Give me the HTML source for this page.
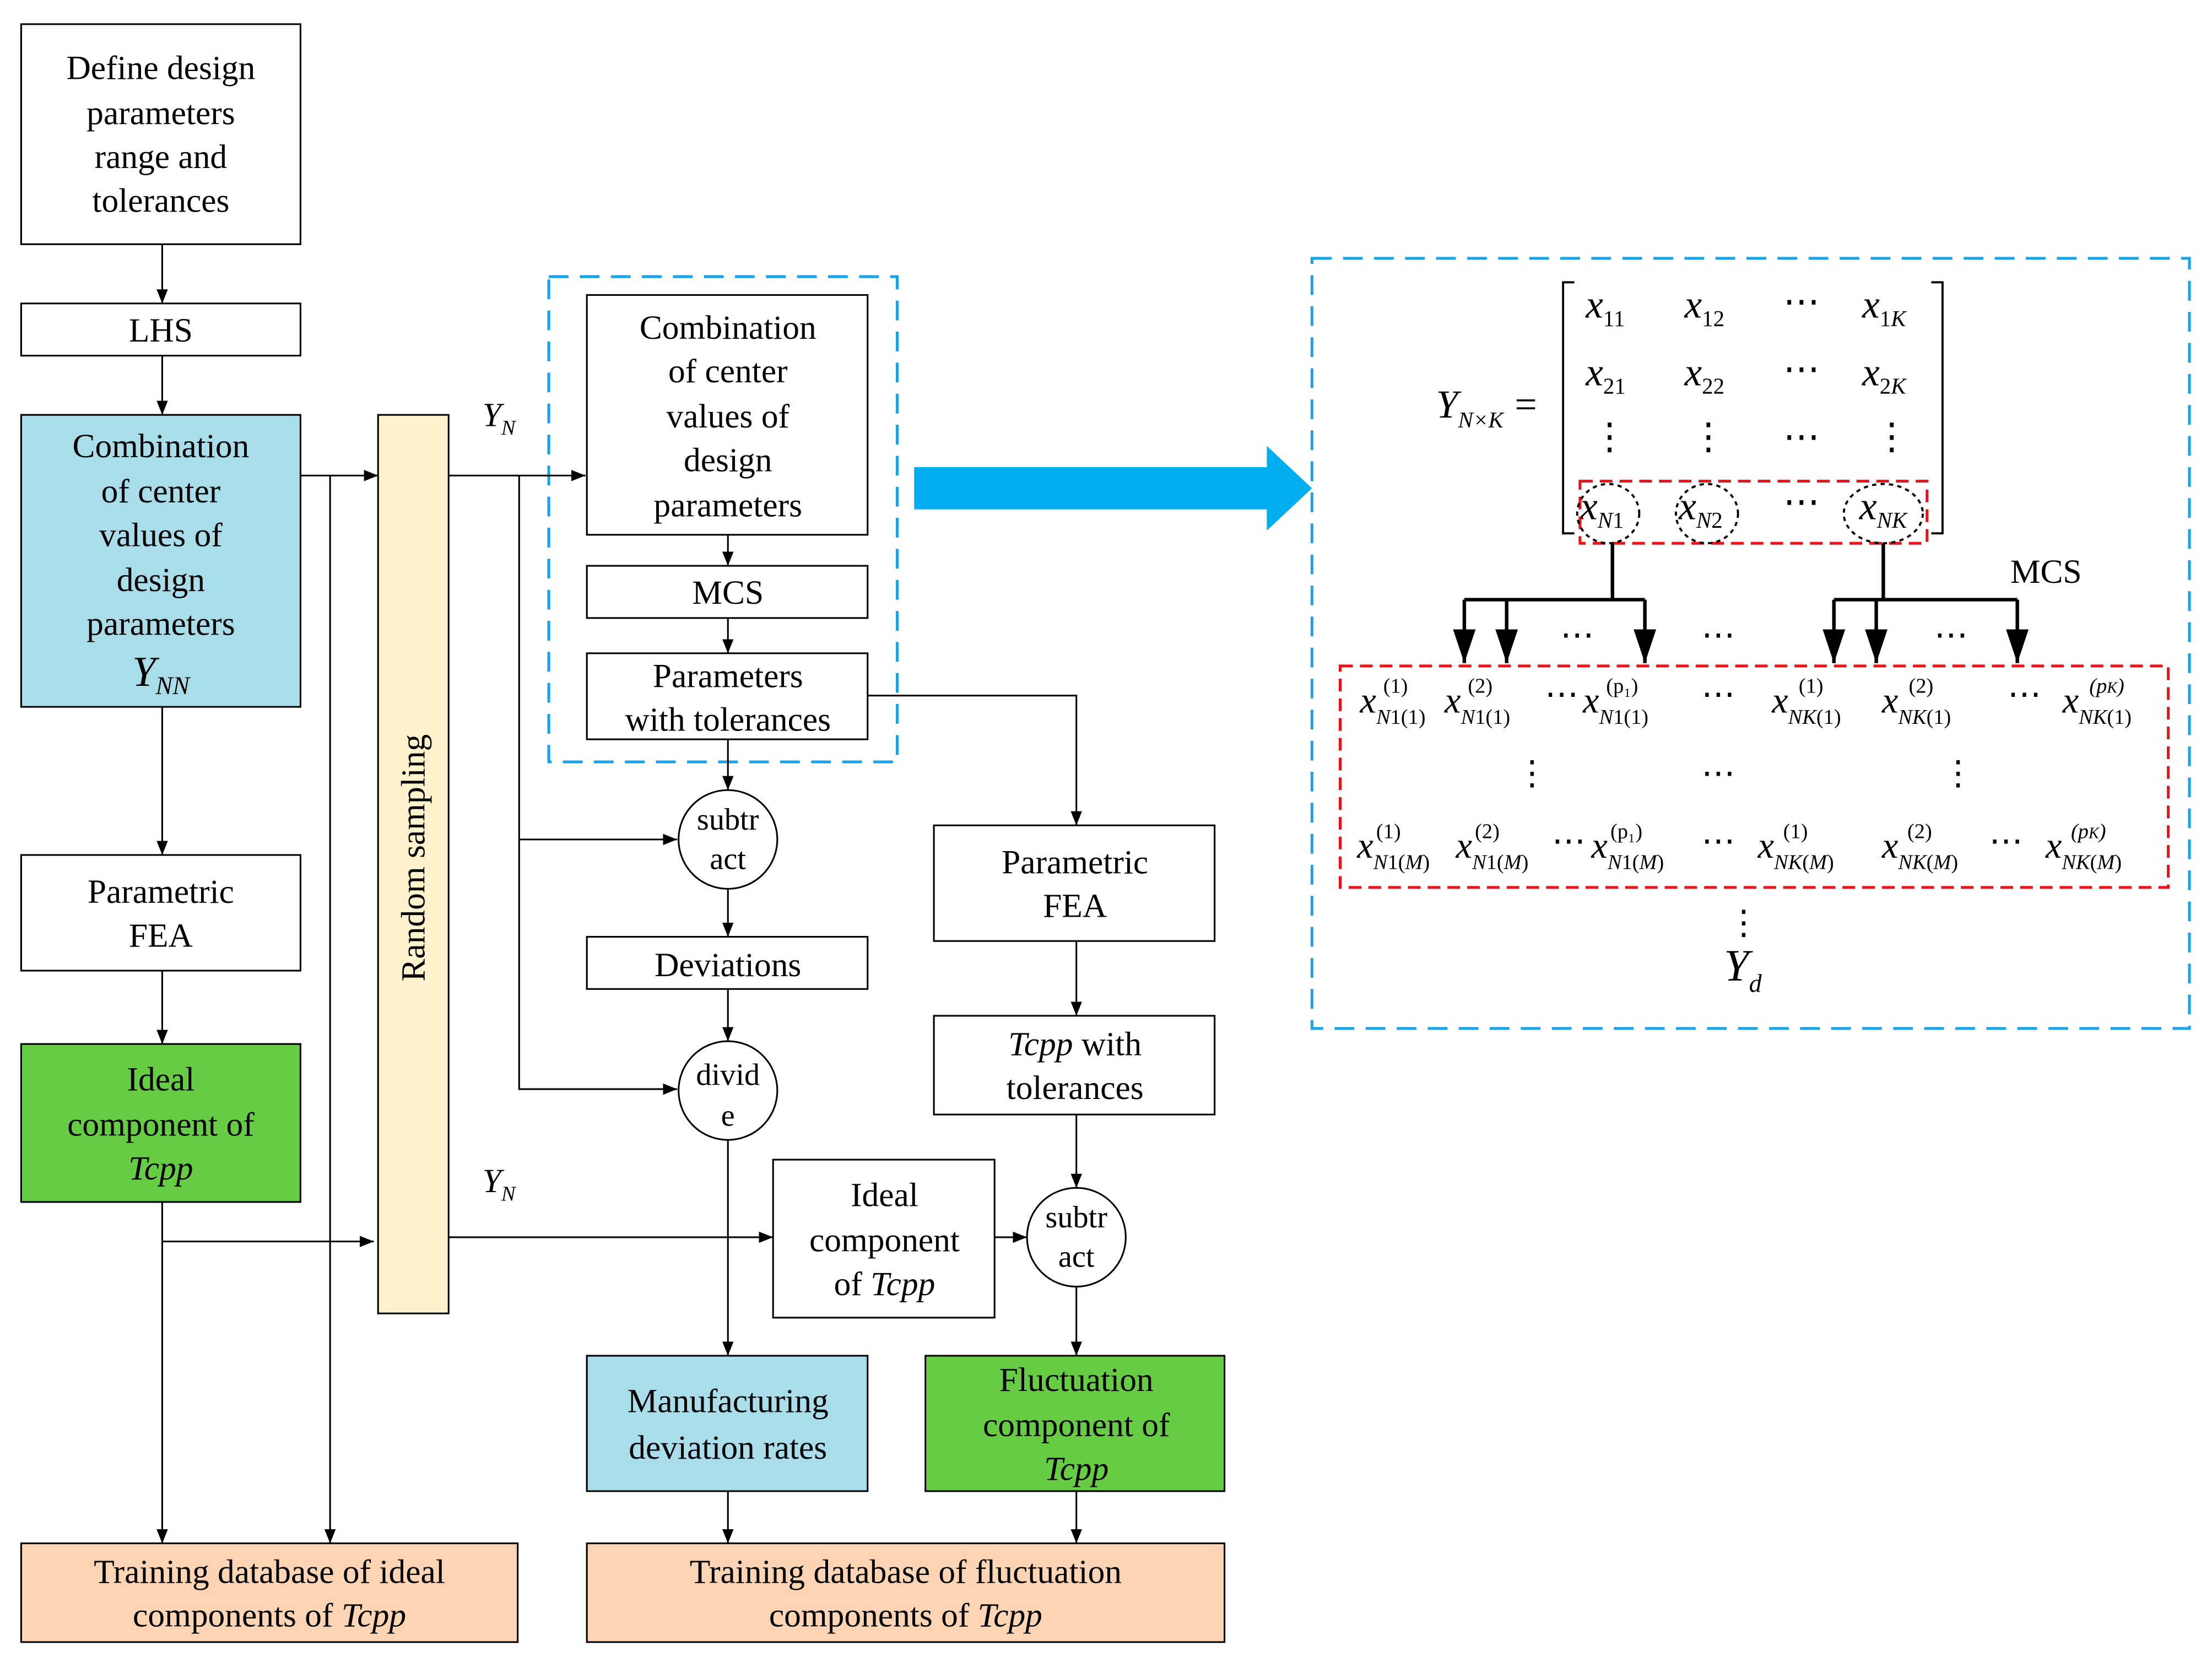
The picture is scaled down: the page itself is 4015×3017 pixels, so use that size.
<!DOCTYPE html>
<html><head><meta charset="utf-8"><style>html,body{margin:0;padding:0;background:#fff}svg{display:block}svg text{font-family:"Liberation Serif",serif}</style></head><body>
<svg width="4015" height="3017" viewBox="0 0 1568 1178" xmlns="http://www.w3.org/2000/svg" font-family="'Liberation Serif', serif" font-size="24">
<defs><marker id="a" markerWidth="10" markerHeight="8" refX="10" refY="4" orient="auto" markerUnits="userSpaceOnUse"><path d="M0,0L10,4L0,8z" fill="#000"/></marker>
<marker id="b" markerWidth="16" markerHeight="24" refX="8" refY="24" orient="0" markerUnits="userSpaceOnUse"><path d="M0,0L16,0L8,24z" fill="#000"/></marker></defs>
<rect width="1568" height="1178" fill="#fff"/>
<g stroke="#000" stroke-width="1.2" fill="none">
<rect x="15" y="17" width="198" height="156"/>
<rect x="15" y="215" width="198" height="37"/>
<rect x="15" y="294" width="198" height="207" fill="#a8dde9"/>
<rect x="15" y="606" width="198" height="82"/>
<rect x="15" y="740" width="198" height="112" fill="#66cc44"/>
<rect x="15" y="1094" width="352" height="70" fill="#fdd5b4"/>
<rect x="268" y="294" width="50" height="637" fill="#fff2cc"/>
<rect x="416" y="209" width="199" height="170"/>
<rect x="416" y="401" width="199" height="37"/>
<rect x="416" y="463" width="199" height="61"/>
<circle cx="516" cy="595" r="35"/>
<rect x="416" y="664" width="199" height="37"/>
<circle cx="516" cy="773" r="35"/>
<rect x="416" y="961" width="199" height="96" fill="#a8dde9"/>
<rect x="416" y="1094" width="452" height="70" fill="#fdd5b4"/>
<rect x="662" y="585" width="199" height="82"/>
<rect x="662" y="720" width="199" height="70"/>
<rect x="548" y="822" width="157" height="112"/>
<circle cx="763" cy="877" r="35"/>
<rect x="656" y="961" width="212" height="96" fill="#66cc44"/>
</g>
<g stroke="#1aa3e8" stroke-width="2" fill="none" stroke-dasharray="14,8">
<rect x="389" y="196" width="247" height="344"/>
<rect x="930" y="183" width="622" height="546"/>
</g>
<path d="M648,331H898V316L930,346L898,376V361H648Z" fill="#00aeef"/>
<g stroke="#000" stroke-width="1.2" fill="none" marker-end="url(#a)">
<path d="M115,173V215"/><path d="M115,252V294"/><path d="M115,501V606"/><path d="M115,688V740"/>
<path d="M115,852V1094"/><path d="M213,337H268"/><path d="M234,337V1094"/><path d="M115,880H265"/>
<path d="M318,337H415"/><path d="M368,337V772H480"/><path d="M368,595H480"/>
<path d="M516,379V401"/><path d="M516,438V463"/><path d="M516,524V560"/><path d="M516,630V664"/>
<path d="M516,701V738"/><path d="M516,808V961"/><path d="M318,877H548"/><path d="M705,877H728"/>
<path d="M763,790V842"/><path d="M763,667V720"/><path d="M615,493H763V585"/><path d="M763,912V961"/>
<path d="M516,1057V1094"/><path d="M763,1057V1094"/>
</g>
<g text-anchor="middle">
<text x="114" y="56">Define design</text><text x="114" y="88">parameters</text><text x="114" y="119">range and</text><text x="114" y="150">tolerances</text>
<text x="114" y="242">LHS</text>
<text x="114" y="324">Combination</text><text x="114" y="356">of center</text><text x="114" y="387">values of</text><text x="114" y="419">design</text><text x="114" y="450">parameters</text>
<text x="114" y="486" font-style="italic" font-size="30">Y<tspan font-size="18" dy="6">NN</tspan></text>
<text x="114" y="640">Parametric</text><text x="114" y="671">FEA</text>
<text x="114" y="773">Ideal</text><text x="114" y="805">component of</text><text x="114" y="836" font-style="italic">Tcpp</text>
<text x="191" y="1122">Training database of ideal</text><text x="191" y="1153">components of <tspan font-style="italic">Tcpp</tspan></text>
<text transform="translate(301,608) rotate(-90)">Random sampling</text>
<text x="516" y="240">Combination</text><text x="516" y="271">of center</text><text x="516" y="303">values of</text><text x="516" y="334">design</text><text x="516" y="366">parameters</text>
<text x="516" y="428">MCS</text>
<text x="516" y="487">Parameters</text><text x="516" y="518">with tolerances</text>
<text x="516" y="588" font-size="22">subtr</text><text x="516" y="616" font-size="22">act</text>
<text x="516" y="692">Deviations</text>
<text x="516" y="769" font-size="22">divid</text><text x="516" y="798" font-size="22">e</text>
<text x="516" y="1001">Manufacturing</text><text x="516" y="1034">deviation rates</text>
<text x="642" y="1122">Training database of fluctuation</text><text x="642" y="1153">components of <tspan font-style="italic">Tcpp</tspan></text>
<text x="762" y="619">Parametric</text><text x="762" y="650">FEA</text>
<text x="762" y="748"><tspan font-style="italic">Tcpp</tspan> with</text><text x="762" y="779">tolerances</text>
<text x="627" y="855">Ideal</text><text x="627" y="887">component</text><text x="627" y="918">of <tspan font-style="italic">Tcpp</tspan></text>
<text x="763" y="870" font-size="22">subtr</text><text x="763" y="898" font-size="22">act</text>
<text x="763" y="986">Fluctuation</text><text x="763" y="1018">component of</text><text x="763" y="1049" font-style="italic">Tcpp</text>
</g>
<text x="342" y="302" font-style="italic">Y<tspan font-size="15" dy="6">N</tspan></text>
<text x="342" y="845" font-style="italic">Y<tspan font-size="15" dy="6">N</tspan></text>
<text x="1018" y="296" font-style="italic" font-size="28">Y<tspan font-size="16" dy="7">N×K</tspan><tspan dy="-7" font-style="normal" dx="8">=</tspan></text>
<path d="M1116,200H1108V378H1116M1369,200H1377V378H1369" stroke="#000" stroke-width="1.5" fill="none"/>
<g font-style="italic" font-size="28">
<text x="1124" y="225">x<tspan font-size="16" dy="6" font-style="normal">11</tspan></text>
<text x="1194" y="225">x<tspan font-size="16" dy="6" font-style="normal">12</tspan></text>
<text x="1320" y="225">x<tspan font-size="16" dy="6" font-style="normal">1</tspan><tspan font-size="16">K</tspan></text>
<text x="1124" y="273">x<tspan font-size="16" dy="6" font-style="normal">21</tspan></text>
<text x="1194" y="273">x<tspan font-size="16" dy="6" font-style="normal">22</tspan></text>
<text x="1320" y="273">x<tspan font-size="16" dy="6" font-style="normal">2</tspan><tspan font-size="16">K</tspan></text>
<text x="1120" y="368">x<tspan font-size="16" dy="6">N</tspan><tspan font-size="16" font-style="normal">1</tspan></text>
<text x="1190" y="368">x<tspan font-size="16" dy="6">N</tspan><tspan font-size="16" font-style="normal">2</tspan></text>
<text x="1318" y="368">x<tspan font-size="16" dy="6">NK</tspan></text>
</g>
<g font-size="26" text-anchor="middle">
<text x="1277" y="222">⋯</text><text x="1277" y="270">⋯</text><text x="1277" y="318">⋯</text><text x="1277" y="364">⋯</text>
<text x="1141" y="318">⋮</text><text x="1211" y="318">⋮</text><text x="1341" y="318">⋮</text>
</g>
<rect x="1120" y="341" width="246" height="44" stroke="#e8141a" stroke-width="2" fill="none" stroke-dasharray="9,5"/>
<g stroke="#000" stroke-width="1.5" fill="none" stroke-dasharray="3,3">
<ellipse cx="1140" cy="364" rx="22" ry="21"/><ellipse cx="1210" cy="364" rx="22" ry="21"/><ellipse cx="1335" cy="364" rx="28" ry="21"/>
</g>
<g stroke="#000" stroke-width="2.5" fill="none">
<path d="M1143,385V425M1038,425H1166M1335,385V425M1300,425H1430"/>
<path d="M1038,425V470" marker-end="url(#b)"/><path d="M1068,425V470" marker-end="url(#b)"/><path d="M1166,425V470" marker-end="url(#b)"/>
<path d="M1300,425V470" marker-end="url(#b)"/><path d="M1330,425V470" marker-end="url(#b)"/><path d="M1430,425V470" marker-end="url(#b)"/>
</g>
<g font-size="24" text-anchor="middle"><text x="1118" y="458">⋯</text><text x="1218" y="458">⋯</text><text x="1383" y="458">⋯</text></g>
<text x="1425" y="413">MCS</text>
<rect x="950" y="472" width="587" height="157" stroke="#e8141a" stroke-width="2" fill="none" stroke-dasharray="9,5"/>
<g font-style="italic" font-size="26">
<text x="964" y="505">x<tspan font-size="15" dy="8">N</tspan><tspan font-size="15" font-style="normal">1(1)</tspan><tspan font-size="15" font-style="normal" dx="-30" dy="-22">(1)</tspan></text>
<text x="1024" y="505">x<tspan font-size="15" dy="8">N</tspan><tspan font-size="15" font-style="normal">1(1)</tspan><tspan font-size="15" font-style="normal" dx="-30" dy="-22">(2)</tspan></text>
<text x="1122" y="505">x<tspan font-size="15" dy="8">N</tspan><tspan font-size="15" font-style="normal">1(1)</tspan><tspan font-size="15" font-style="normal" dx="-30" dy="-22">(p₁)</tspan></text>
<text x="1256" y="505">x<tspan font-size="15" dy="8">NK</tspan><tspan font-size="15" font-style="normal">(1)</tspan><tspan font-size="15" font-style="normal" dx="-30" dy="-22">(1)</tspan></text>
<text x="1334" y="505">x<tspan font-size="15" dy="8">NK</tspan><tspan font-size="15" font-style="normal">(1)</tspan><tspan font-size="15" font-style="normal" dx="-30" dy="-22">(2)</tspan></text>
<text x="1462" y="505">x<tspan font-size="15" dy="8">NK</tspan><tspan font-size="15" font-style="normal">(1)</tspan><tspan font-size="15" dx="-30" dy="-22">(p<tspan font-size="11">K</tspan>)</tspan></text>
<text x="962" y="608">x<tspan font-size="15" dy="8">N</tspan><tspan font-size="15" font-style="normal">1(</tspan><tspan font-size="15">M</tspan><tspan font-size="15" font-style="normal">)</tspan><tspan font-size="15" font-style="normal" dx="-38" dy="-22">(1)</tspan></text>
<text x="1032" y="608">x<tspan font-size="15" dy="8">N</tspan><tspan font-size="15" font-style="normal">1(</tspan><tspan font-size="15">M</tspan><tspan font-size="15" font-style="normal">)</tspan><tspan font-size="15" font-style="normal" dx="-38" dy="-22">(2)</tspan></text>
<text x="1128" y="608">x<tspan font-size="15" dy="8">N</tspan><tspan font-size="15" font-style="normal">1(</tspan><tspan font-size="15">M</tspan><tspan font-size="15" font-style="normal">)</tspan><tspan font-size="15" font-style="normal" dx="-38" dy="-22">(p₁)</tspan></text>
<text x="1246" y="608">x<tspan font-size="15" dy="8">NK</tspan><tspan font-size="15" font-style="normal">(</tspan><tspan font-size="15">M</tspan><tspan font-size="15" font-style="normal">)</tspan><tspan font-size="15" font-style="normal" dx="-36" dy="-22">(1)</tspan></text>
<text x="1334" y="608">x<tspan font-size="15" dy="8">NK</tspan><tspan font-size="15" font-style="normal">(</tspan><tspan font-size="15">M</tspan><tspan font-size="15" font-style="normal">)</tspan><tspan font-size="15" font-style="normal" dx="-36" dy="-22">(2)</tspan></text>
<text x="1450" y="608">x<tspan font-size="15" dy="8">NK</tspan><tspan font-size="15" font-style="normal">(</tspan><tspan font-size="15">M</tspan><tspan font-size="15" font-style="normal">)</tspan><tspan font-size="15" dx="-36" dy="-22">(p<tspan font-size="11">K</tspan>)</tspan></text>
</g>
<g font-size="24" text-anchor="middle">
<text x="1107" y="500">⋯</text><text x="1218" y="500">⋯</text><text x="1435" y="500">⋯</text>
<text x="1112" y="604">⋯</text><text x="1218" y="604">⋯</text><text x="1422" y="604">⋯</text>
<text x="1086" y="556">⋮</text><text x="1218" y="556">⋯</text><text x="1388" y="556">⋮</text>
<text x="1236" y="662">⋮</text>
</g>
<text x="1222" y="695" font-style="italic" font-size="32">Y<tspan font-size="18" dy="8">d</tspan></text>
</svg>
</body></html>
